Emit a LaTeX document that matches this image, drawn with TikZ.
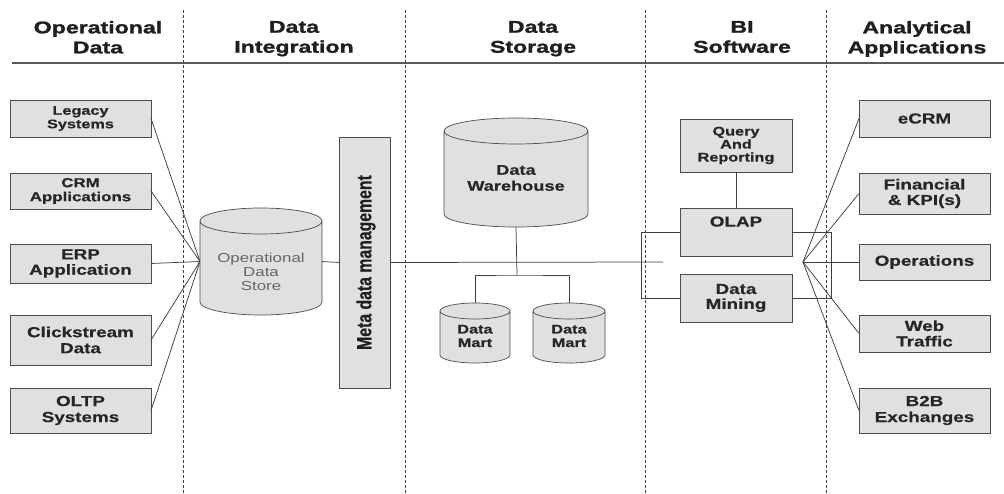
\documentclass[tikz,border=0pt]{standalone}
\usepackage{fontspec}
\setmainfont{Liberation Sans}
\newfontfamily\wide{Liberation Sans}[FakeStretch=1.3,FakeBold=0.5]
\newfontfamily\thin{Liberation Sans}[FakeStretch=1.3]
\newfontfamily\heavy{Liberation Sans}[FakeStretch=1.36,FakeBold=1.4]
\newfontfamily\tall{Liberation Sans}[FakeBold=0.5]
\usetikzlibrary{calc,shadows}

\newcommand\bfs[2]{\wide\bfseries\fontsize{#1}{#2}\selectfont}

\tikzset{
  x=1pt, y=1pt,
  box/.style={draw=black!70, line width=0.7pt, fill=black!12,
    drop shadow={shadow xshift=1.4pt, shadow yshift=-1.4pt, fill=black!60, opacity=1},
    align=center, inner sep=0pt, outer sep=0pt, text=black!85},
  hdr/.style={align=center, anchor=north, text=black!88,
    font=\heavy\bfseries\fontsize{17}{20}\selectfont},
  drumarea/.style={inner sep=0pt, outer sep=0pt},
  drum/.style={draw=black!70, line width=0.7pt, fill=black!12},
  link/.style={draw=black!75, line width=0.75pt},
  sep/.style={draw=black!75, line width=0.8pt, dash pattern=on 3pt off 2pt},
}

% cylinder drawn over an empty node: #1 node name, #2 half height of the end caps
\newcommand\drum[2]{%
  \path[drum] let \p1=(#1.north west), \p2=(#1.south east), \n1={(\x2-\x1)/2} in
    (\x1,\y1-#2) -- (\x1,\y2+#2)
    arc[start angle=180, end angle=360, x radius=\n1, y radius=#2]
    -- (\x2,\y1-#2)
    arc[start angle=0, end angle=180, x radius=\n1, y radius=#2] -- cycle
    (\x1+\n1,\y1-#2) ellipse[x radius=\n1, y radius=#2];
}

\begin{document}
\begin{tikzpicture}
\fill[white] (0,0) rectangle (1004,-494);
\useasboundingbox (0,0) rectangle (1004,-494);

% column headers
\node[hdr] (h1) at (98,-17.5) {Operational\\Data};
\node[hdr] (h2) at (294,-17.5) {Data\\Integration};
\node[hdr] (h3) at (533,-17.5) {Data\\Storage};
\node[hdr] (h4) at (742,-17.5) {BI\\Software};
\node[hdr] (h5) at (917,-17.5) {Analytical\\Applications};
\draw[line width=2.5pt, black!65] (12,-63) -- (1004,-63);

% column separators
\foreach \i/\x in {1/183, 2/405, 3/645, 4/826} {
  \coordinate (s\i t) at (\x,-10);
  \coordinate (s\i b) at (\x,-494);
  \draw[sep] (s\i t) -- (s\i b);
}

% operational sources
\node[box, minimum width=141pt, minimum height=37pt, font=\bfs{12.5}{13.5}] (legacy) at (80.5,-118.5) {Legacy\\Systems};
\node[box, minimum width=141pt, minimum height=36pt, font=\bfs{13}{14}] (crm) at (80.5,-191) {CRM\\Applications};
\node[box, minimum width=141pt, minimum height=39pt, font=\bfs{14.5}{15.5}] (erp) at (80.5,-263.5) {ERP\\Application};
\node[box, minimum width=141pt, minimum height=50pt, font=\bfs{14.5}{16}] (click) at (80.5,-340) {Clickstream\\Data};
\node[box, minimum width=141pt, minimum height=45pt, font=\bfs{14.5}{16}] (oltp) at (80.5,-410.5) {OLTP\\Systems};

% storage areas
\node[drumarea, minimum width=122pt, minimum height=107pt] (ods) at (261,-261.5) {};
\node[drumarea, minimum width=144pt, minimum height=109pt] (dw) at (516,-172.5) {};
\node[drumarea, minimum width=70pt, minimum height=60pt] (dm1) at (475,-333) {};
\node[drumarea, minimum width=72pt, minimum height=60pt] (dm2) at (569,-333) {};

% metadata layer
\node[box, minimum width=51pt, minimum height=251pt] (meta) at (364.5,-262.5) {};

% BI tools
\node[box, minimum width=112pt, minimum height=53pt, font=\bfs{12.5}{13}] (query) at (736,-145.5) {Query\\And\\Reporting};
\node[box, minimum width=112pt, minimum height=48pt, font=\bfs{14.5}{15.5}, text depth=21pt] (olap) at (736,-232) {OLAP};
\node[box, minimum width=112pt, minimum height=48pt, font=\bfs{14.5}{15}] (mining) at (736,-298) {Data\\Mining};

% analytical applications
\node[box, minimum width=131pt, minimum height=37pt, font=\bfs{14.5}{15.5}] (ecrm) at (924.5,-118.5) {eCRM};
\node[box, minimum width=131pt, minimum height=41pt, font=\bfs{14.5}{15.5}] (fin) at (924.5,-193.5) {Financial\\\& KPI(s)};
\node[box, minimum width=131pt, minimum height=36pt, font=\bfs{14.5}{15.5}] (ops) at (924.5,-262) {Operations};
\node[box, minimum width=131pt, minimum height=37pt, font=\bfs{14.5}{15.5}] (web) at (924.5,-333.5) {Web\\Traffic};
\node[box, minimum width=131pt, minimum height=45pt, font=\bfs{14.5}{16}] (b2b) at (924.5,-410.5) {B2B\\Exchanges};

% connectors
\coordinate (busend) at (663,-262);
\coordinate (jn) at (517,-275);
\coordinate (bl1) at (641,-232);
\coordinate (bl2) at (641,-298);
\coordinate (br1) at (831,-232);
\coordinate (br2) at (831,-298);
\coordinate (fan) at (803,-262);

\foreach \n in {legacy, crm, erp, click, oltp}
  \draw[link] (\n.east) -- (ods.west);
\draw[link] (ods.east) -- (meta.west);
\draw[link] (meta.east) -- (busend);
\draw[link] (dw.south) -- (jn);
\draw[link] (dm1.north) |- (jn) -| (dm2.north);
\draw[link] (olap.west) -- (bl1) -- (bl2) -- (mining.west);
\draw[link] (olap.east) -- (br1) -- (br2) -- (mining.east);
\draw[link] (query.south) -- (olap.north);
\foreach \n in {ecrm, fin, ops, web, b2b}
  \draw[link] (fan) -- (\n.west);

% cylinders
\drum{ods}{13pt}
\drum{dw}{13pt}
\drum{dm1}{8pt}
\drum{dm2}{8pt}

% cylinder and metadata labels
\node[align=center, text=black!60, font=\thin\fontsize{13}{14}\selectfont] (odsl) at (261,-272) {Operational\\Data\\Store};
\node[align=center, text=black!85, font=\bfs{14}{16}] (dwl) at (516,-178) {Data\\Warehouse};
\node[align=center, text=black!85, font=\bfs{12.5}{13.5}] (dm1l) at (475,-336) {Data\\Mart};
\node[align=center, text=black!85, font=\bfs{12.5}{13.5}] (dm2l) at (569,-336) {Data\\Mart};
\node[rotate=90, text=black!88, font=\tall\bfseries\fontsize{15.8}{17}\selectfont] (metal) at (366,-262.5) {\scalebox{1}[1.3]{Meta data management}};
\end{tikzpicture}
\end{document}
